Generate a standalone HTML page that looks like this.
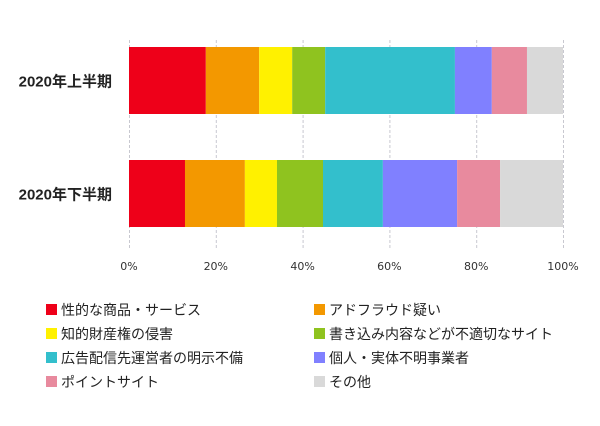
<!DOCTYPE html>
<html><head><meta charset="utf-8"><style>
body{margin:0;background:#fff;font-family:"Liberation Sans","Noto Sans CJK JP",sans-serif}
</style></head><body>
<svg width="600" height="421" xmlns="http://www.w3.org/2000/svg">
<g id="grid"></g><g id="bars"></g><g id="ticks"></g><g id="cats"></g><g id="legend"></g>
</svg>
<script>
const categories=["2020年上半期","2020年下半期"];
const seriesNames=["性的な商品・サービス","アドフラウド疑い","知的財産権の侵害","書き込み内容などが不適切なサイト","広告配信先運営者の明示不備","個人・実体不明事業者","ポイントサイト","その他"];
const colors=["#ee0019","#f39800","#fff100","#8fc31f","#33bfcc","#8080ff","#e88a9e","#d9d9d9"];
const row1=[17.7,12.3,7.6,7.6,29.9,8.5,8.1,8.3];
const row2=[12.9,13.8,7.4,10.6,13.8,17.1,9.9,14.5];
const tickValues=[0,20,40,60,80,100];
const NS="http://www.w3.org/2000/svg";
const X0=129,X1=563;
const x=v=>X0+(X1-X0)*v/100;
const rowY=[47,160],BH=67;
function mk(t,a,p){const e=document.createElementNS(NS,t);for(const k in a)e.setAttribute(k,a[k]);p.appendChild(e);return e;}
const grid=document.getElementById('grid');
tickValues.forEach(t=>{
 const l=mk('line',{x1:x(t)+.5,x2:x(t)+.5,y1:40,y2:250,stroke:'#c8c8d0','stroke-dasharray':'3,2'},grid);
 
 
 const tx=mk('text',{x:x(t),y:270,'text-anchor':'middle','font-size':11,'font-family':'DejaVu Sans, sans-serif',fill:'#333'},document.getElementById('ticks'));
 tx.textContent=t+'%';
 
 
});
[row1,row2].forEach((row,ri)=>{
 let acc=0;
 row.forEach((v,i)=>{
  const r=mk('rect',{x:x(acc),y:rowY[ri],width:x(acc+v)-x(acc),height:BH,fill:colors[i]},document.getElementById('bars'));
  
  
  acc+=v;
 });
 const c=mk('text',{x:112,y:rowY[ri]+BH/2+6,'text-anchor':'end','font-size':15,'font-weight':'bold',fill:'#222'},document.getElementById('cats'));
 c.textContent=categories[ri];
 
 
});
seriesNames.forEach((n,i)=>{
 const lx=i%2?314:46,ly=304+Math.floor(i/2)*24;
 const g=mk('g',{},document.getElementById('legend'));
 
 
 mk('rect',{x:lx,y:ly,width:11,height:11,fill:colors[i]},g);
 const t=mk('text',{x:lx+15,y:ly+11,'font-size':14,fill:'#222'},g);
 t.textContent=n;
});
</script>
</body></html>
